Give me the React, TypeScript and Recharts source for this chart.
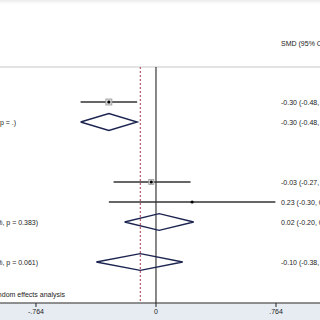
import React from "react";
import { ScatterChart, Scatter, XAxis, YAxis, ReferenceLine } from "recharts";

// rows are laid out top to bottom, one unit per line of the forest plot
const studyRow = [0, 4, 5];
const studyEst = [-0.3, -0.03, 0.23];
const studyLo = [-0.48, -0.27, -0.3];
const studyHi = [-0.12, 0.22, 0.76];
const studyBox = [6, 5, 0];
const studyText = ["-0.30 (-0.48, -0.12)", "-0.03 (-0.27, 0.22)", "0.23 (-0.30, 0.76)"];

const poolRow = [1, 6, 8];
const poolEst = [-0.3, 0.02, -0.1];
const poolLo = [-0.48, -0.2, -0.38];
const poolHi = [-0.12, 0.24, 0.17];
const poolText = ["-0.30 (-0.48, -0.12)", "0.02 (-0.20, 0.24)", "-0.10 (-0.38, 0.17)"];
const poolLabel = [
  "Subtotal  (I-squared = .%, p = .)",
  "Subtotal  (I-squared = 0.0%, p = 0.383)",
  "Overall  (I-squared = 64.2%, p = 0.061)",
];

const xTicks = [-0.764, 0, 0.764];
const headerRow = -2.95;
const ruleRow = -1.75;
const noteRow = 9.6;
const noteText = "NOTE: Weights are from random effects analysis";
const headerText = "SMD (95% CI)";
const overallEffect = -0.1;

const X_DOMAIN: [number, number] = [-0.993, 1.044];
const Y_DOMAIN: [number, number] = [-5.1, 10.05];
const RIGHT_COL = 0.796;
const LEFT_END = [-0.891, -0.751, -0.751];
const NOTE_END = -0.579;
const FONT = "'Liberation Sans', Arial, sans-serif";
const FS = 7;

const textItems = [
  { x: RIGHT_COL, y: headerRow, label: headerText, anchor: "start" },
  ...studyRow.map((r, i) => ({ x: RIGHT_COL, y: r, label: studyText[i], anchor: "start" })),
  ...poolRow.map((r, i) => ({ x: RIGHT_COL, y: r, label: poolText[i], anchor: "start" })),
  ...poolRow.map((r, i) => ({ x: LEFT_END[i], y: r, label: poolLabel[i], anchor: "end" })),
  { x: NOTE_END, y: noteRow, label: noteText, anchor: "end" },
];

const points = studyRow.map((r, i) => ({ x: studyEst[i], y: r, box: studyBox[i] }));

const fmtTick = (v: number) => (v === 0 ? "0" : v.toFixed(3).replace("0.", "."));

const Empty = () => <g />;

const TextShape = (props: any) => {
  const { cx, cy, payload } = props;
  return (
    <text
      x={cx}
      y={cy}
      dy={2.5}
      textAnchor={payload.anchor}
      fontSize={FS}
      fontFamily={FONT}
      fill="#222"
    >
      {payload.label}
    </text>
  );
};

const MarkerShape = (props: any) => {
  const { cx, cy, payload } = props;
  const b = payload.box;
  return (
    <g>
      {b > 0 && (
        <rect x={cx - b / 2} y={cy - b / 2} width={b} height={b} fill="#ddd" stroke="#999" strokeWidth={0.8} />
      )}
      <circle cx={cx} cy={cy} r={1.6} fill="#000" />
    </g>
  );
};

export default function App() {
  return (
    <div
      style={{
        position: "absolute",
        left: 0,
        top: 0,
        width: 320,
        height: 320,
        background: "linear-gradient(to bottom, #ececec 0px, #fafafa 3px, #fff 4px, #fff 303px, #e6ecf2 304px)",
      }}
    >
      <ScatterChart width={320} height={320} margin={{ top: 0, right: 0, bottom: 0, left: 0 }}>
        <XAxis
          type="number"
          dataKey="x"
          domain={X_DOMAIN}
          allowDataOverflow
          ticks={xTicks}
          tickFormatter={fmtTick}
          height={17}
          axisLine={{ stroke: "#222", strokeWidth: 1 }}
          tickLine={{ stroke: "#222" }}
          tickSize={4}
          tick={{ fontSize: FS, fontFamily: FONT, fill: "#222" }}
        />
        <YAxis type="number" dataKey="y" domain={Y_DOMAIN} reversed hide allowDataOverflow />
        <ReferenceLine y={ruleRow} stroke="#c8c8c8" strokeWidth={1} />
        <ReferenceLine
          segment={[
            { x: overallEffect, y: ruleRow },
            { x: overallEffect, y: Y_DOMAIN[1] },
          ]}
          stroke="#a83a4a"
          strokeDasharray="2 2"
          strokeWidth={1}
        />
        <ReferenceLine
          segment={[
            { x: 0, y: ruleRow },
            { x: 0, y: Y_DOMAIN[1] },
          ]}
          stroke="#111"
          strokeWidth={1}
        />
        {studyRow.map((r, i) => (
          <Scatter
            key={`ci${i}`}
            data={[
              { x: studyLo[i], y: r },
              { x: studyHi[i], y: r },
            ]}
            line={{ stroke: "#333", strokeWidth: 1.6 }}
            shape={Empty}
            isAnimationActive={false}
          />
        ))}
        {poolRow.map((r, i) => (
          <Scatter
            key={`dm${i}`}
            data={[
              { x: poolLo[i], y: r },
              { x: poolEst[i], y: r - 0.42 },
              { x: poolHi[i], y: r },
              { x: poolEst[i], y: r + 0.42 },
              { x: poolLo[i], y: r },
            ]}
            line={{ stroke: "#1c2450", strokeWidth: 1.4 }}
            shape={Empty}
            isAnimationActive={false}
          />
        ))}
        <Scatter data={points} shape={MarkerShape} isAnimationActive={false} />
        <Scatter data={textItems} shape={TextShape} isAnimationActive={false} />
      </ScatterChart>
    </div>
  );
}
